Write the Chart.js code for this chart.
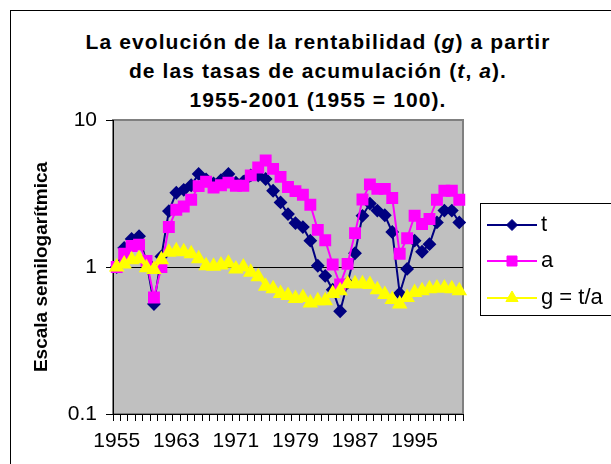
<!DOCTYPE html>
<html>
<head>
<meta charset="utf-8">
<script src="https://cdn.jsdelivr.net/npm/chart.js@4"></script>
<style>
  html, body { margin: 0; padding: 0; background: #fff; overflow: hidden; }
  #wrap { position: relative; width: 611px; height: 464px; overflow: hidden; }
  #frame { position: absolute; left: 10px; top: 10px; width: 700px; height: 600px; border: 1px solid #000; box-sizing: border-box; }
  #title { position: absolute; left: 10px; width: 616px; top: 27px; text-align: center;
           font: bold 21px "Liberation Sans", Arial, sans-serif; line-height: 29px; letter-spacing: 1.1px; color: #000; }
  canvas { position: absolute; left: 0; top: 0; }
</style>
</head>
<body>
<div id="wrap">
  <div id="frame"></div>
  <div id="title">La evolución de la rentabilidad (<i>g</i>) a partir<br>de las tasas de acumulación (<i>t</i>, <i>a</i>).<br>1955-2001 (1955 = 100).</div>
  <canvas id="chart" width="611" height="464"></canvas>
</div>
<script>
// años 1955-2001
const years = [1955, 1956, 1957, 1958, 1959, 1960, 1961, 1962, 1963, 1964,
  1965, 1966, 1967, 1968, 1969, 1970, 1971, 1972, 1973, 1974,
  1975, 1976, 1977, 1978, 1979, 1980, 1981, 1982, 1983, 1984,
  1985, 1986, 1987, 1988, 1989, 1990, 1991, 1992, 1993, 1994,
  1995, 1996, 1997, 1998, 1999, 2000, 2001];
const tickLabels = ['1955', '1963', '1971', '1979', '1987', '1995'];

// series (1955 = 1)
const tVals = [1.0, 1.35, 1.55, 1.62, 1.08, 0.56, 1.18, 2.4, 3.2, 3.35,
  3.6, 4.3, 3.95, 3.7, 3.9, 4.3, 3.75, 3.8, 4.2, 4.2,
  3.97, 3.3, 2.75, 2.29, 1.99, 1.87, 1.51, 1.02, 0.87, 0.7,
  0.5, 0.78, 1.24, 2.23, 2.7, 2.42, 2.25, 1.73, 0.66, 0.97,
  1.51, 1.27, 1.43, 2.01, 2.42, 2.42, 2.01];
const aVals = [1.0, 1.23, 1.39, 1.42, 1.1, 0.62, 1.0, 1.87, 2.45, 2.58,
  2.87, 3.55, 3.8, 3.47, 3.6, 3.75, 3.57, 3.57, 4.2, 4.75,
  5.3, 4.65, 4.1, 3.5, 3.28, 3.1, 2.65, 1.79, 1.52, 1.04,
  0.76, 1.05, 1.7, 2.88, 3.65, 3.4, 3.4, 2.95, 1.23, 1.57,
  2.23, 1.96, 2.12, 2.87, 3.3, 3.3, 2.87];
const gVals = [1.0, 1.05, 1.12, 1.14, 0.99, 0.96, 1.12, 1.26, 1.29, 1.27,
  1.23, 1.14, 1.02, 1.01, 1.03, 1.06, 0.97, 1.0, 0.92, 0.86,
  0.74, 0.71, 0.66, 0.64, 0.61, 0.62, 0.57, 0.59, 0.59, 0.66,
  0.69, 0.77, 0.77, 0.77, 0.76, 0.7, 0.65, 0.6, 0.56, 0.62,
  0.67, 0.69, 0.71, 0.72, 0.72, 0.71, 0.69];

const FONT = '"Liberation Sans", Arial, sans-serif';

// fondo gris del área de trazado
const plotBg = {
  id: 'plotBg',
  beforeDraw(chart) {
    const { ctx, chartArea: a } = chart;
    ctx.save();
    ctx.fillStyle = '#C0C0C0';
    ctx.fillRect(a.left, a.top, a.right - a.left, a.bottom - a.top);
    ctx.strokeStyle = '#808080';
    ctx.lineWidth = 2;
    ctx.strokeRect(a.left, a.top, a.right - a.left, a.bottom - a.top);
    ctx.restore();
  }
};

function marker(ctx, style, x, y) {
  ctx.beginPath();
  if (style === 'rectRot') {
    ctx.moveTo(x, y - 5.5); ctx.lineTo(x + 5.5, y); ctx.lineTo(x, y + 5.5); ctx.lineTo(x - 5.5, y);
  } else if (style === 'rect') {
    ctx.rect(x - 5, y - 5, 10, 10);
  } else {
    ctx.moveTo(x, y - 7); ctx.lineTo(x + 6.1, y + 3.5); ctx.lineTo(x - 6.1, y + 3.5);
  }
  ctx.closePath();
  ctx.fill();
  ctx.stroke();
}

// leyenda con recuadro
const boxLegend = {
  id: 'boxLegend',
  afterDraw(chart) {
    const ctx = chart.ctx;
    ctx.save();
    ctx.fillStyle = '#fff';
    ctx.fillRect(480, 203, 140, 112);
    ctx.strokeStyle = '#000';
    ctx.lineWidth = 1;
    ctx.strokeRect(480.5, 203.5, 140, 112);
    const rows = [225, 261, 298];
    chart.data.datasets.forEach((ds, i) => {
      const y = rows[i];
      ctx.strokeStyle = ds.borderColor;
      ctx.fillStyle = ds.backgroundColor;
      ctx.lineWidth = 2;
      ctx.beginPath();
      ctx.moveTo(487, y); ctx.lineTo(537, y);
      ctx.stroke();
      ctx.lineWidth = 1;
      marker(ctx, ds.pointStyle, 512, y);
      ctx.fillStyle = '#000';
      ctx.font = '22px ' + FONT;
      ctx.textBaseline = 'middle';
      ctx.textAlign = 'left';
      ctx.fillText(ds.label, 541, y);
    });
    ctx.restore();
  }
};

new Chart(document.getElementById('chart').getContext('2d'), {
  type: 'line',
  data: {
    labels: years,
    datasets: [
      { label: 't', data: tVals, borderColor: '#000080', backgroundColor: '#000080',
        pointStyle: 'rectRot', pointRadius: 5.5, borderWidth: 2, order: 3 },
      { label: 'a', data: aVals, borderColor: '#FF00FF', backgroundColor: '#FF00FF',
        pointStyle: 'rect', pointRadius: 7, borderWidth: 2, order: 2 },
      { label: 'g = t/a', data: gVals, borderColor: '#FFFF00', backgroundColor: '#FFFF00',
        pointStyle: 'triangle', pointRadius: 7, borderWidth: 2, order: 1 }
    ]
  },
  options: {
    responsive: false,
    animation: false,
    layout: { padding: { left: 10, right: 148, top: 120, bottom: 0 } },
    plugins: { legend: { display: false }, tooltip: { enabled: false } },
    scales: {
      x: {
        type: 'category',
        offset: true,
        afterFit: s => { s.height = 50; },
        grid: { offset: true, drawOnChartArea: false, tickLength: 7, tickColor: '#000' },
        border: { color: '#000', width: 1 },
        ticks: {
          autoSkip: false, maxRotation: 0, minRotation: 0, padding: 8, color: '#000',
          font: { family: FONT, size: 21 },
          callback: function (v) {
            const l = String(this.getLabelForValue(v));
            return tickLabels.includes(l) ? l : '';
          }
        }
      },
      y: {
        type: 'logarithmic',
        min: 0.1, max: 10,
        afterFit: s => { s.width = 103; },
        afterBuildTicks: s => { s.ticks = [0.1, 1, 10].map(v => ({ value: v })); },
        grid: {
          tickLength: 7, tickColor: '#000',
          color: c => (c.tick && c.tick.value === 1 ? '#000' : 'rgba(0,0,0,0)')
        },
        border: { color: '#000', width: 1 },
        ticks: {
          padding: 9, color: '#000', font: { family: FONT, size: 21 },
          callback: v => String(v)
        },
        title: {
          display: true, text: 'Escala semilogarítmica', color: '#000',
          font: { family: FONT, size: 19, weight: 'bold' },
          padding: { top: 20, bottom: 0 }
        }
      }
    }
  },
  plugins: [plotBg, boxLegend]
});
</script>
</body>
</html>
